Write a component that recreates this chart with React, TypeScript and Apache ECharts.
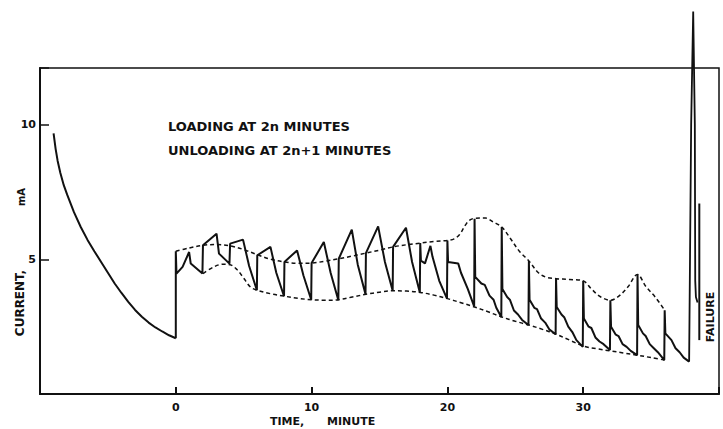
import React, { useEffect, useRef } from "react";
import * as echarts from "echarts";

// Time (minute) / current (mA) pairs
const warmupCurve: number[][] = [
  [-9.0, 9.67], [-8.85, 9.1], [-8.7, 8.65], [-8.5, 8.2], [-8.25, 7.75], [-8.0, 7.4],
  [-7.5, 6.75], [-7.0, 6.2], [-6.5, 5.72], [-6.0, 5.3], [-5.5, 4.9], [-5.0, 4.5],
  [-4.5, 4.1], [-4.0, 3.75], [-3.5, 3.42], [-3.0, 3.12], [-2.5, 2.87], [-2.0, 2.65],
  [-1.5, 2.47], [-1.0, 2.32], [-0.5, 2.18], [0, 2.07],
];

const cycleCurve: number[][] = [
  [0, 2.07], [0, 5.3], [0.05, 4.47], [0.5, 4.72], [0.98, 5.27], [1.1, 4.84], [1.96, 4.47],
  [2.0, 5.52], [3.0, 5.95], [3.18, 5.21], [3.95, 4.84],
  [4.0, 5.58], [4.95, 5.73], [5.4, 4.75], [5.97, 3.85],
  [6.0, 5.15], [6.97, 5.46], [7.4, 4.5], [7.97, 3.63],
  [8.0, 4.9], [8.93, 5.33], [9.4, 4.4], [9.97, 3.5],
  [10.0, 4.86], [10.9, 5.64], [11.4, 4.5], [11.97, 3.48],
  [12.0, 5.02], [12.96, 6.1], [13.4, 4.8], [13.97, 3.7],
  [14.0, 5.23], [14.9, 6.22], [15.4, 4.9], [15.97, 3.83],
  [16.0, 5.46], [16.95, 6.17], [17.4, 4.9], [17.97, 3.77],
  [18.0, 5.6], [18.05, 4.95], [18.35, 4.85], [18.75, 5.5], [18.9, 5.1], [19.4, 4.2], [19.97, 3.54],
  [20.0, 5.7], [20.05, 4.9], [20.8, 4.84], [21.0, 4.5], [21.5, 3.9], [21.97, 3.25],
  [22.0, 6.5], [22.05, 4.35], [22.5, 4.1], [22.75, 4.05], [23.1, 3.65], [23.4, 3.5], [23.6, 3.2], [23.97, 2.86],
  [24.0, 6.2], [24.05, 3.9], [24.4, 3.6], [24.6, 3.5], [24.9, 3.1], [25.2, 2.95], [25.5, 2.75], [25.97, 2.56],
  [26.0, 4.94], [26.05, 3.5], [26.4, 3.2], [26.6, 3.15], [26.9, 2.8], [27.2, 2.65], [27.5, 2.4], [27.97, 2.22],
  [28.0, 4.28], [28.05, 3.23], [28.4, 2.95], [28.6, 2.85], [28.9, 2.5], [29.2, 2.3], [29.5, 2.0], [29.97, 1.75],
  [30.0, 4.2], [30.05, 2.8], [30.4, 2.5], [30.6, 2.45], [30.9, 2.1], [31.2, 1.95], [31.5, 1.85], [31.97, 1.63],
  [32.0, 3.48], [32.05, 2.5], [32.4, 2.2], [32.6, 2.15], [32.9, 1.85], [33.2, 1.75], [33.5, 1.6], [33.97, 1.44],
  [34.0, 4.44], [34.05, 2.56], [34.4, 2.25], [34.6, 2.15], [34.9, 1.85], [35.2, 1.7], [35.5, 1.55], [35.97, 1.26],
  [36.0, 3.11], [36.05, 2.25], [36.5, 2.0], [36.8, 1.7], [37.1, 1.55], [37.4, 1.35], [37.8, 1.2],
];

const failureSpike: number[][] = [
  [37.8, 1.2], [37.95, 10.0], [38.1, 14.2], [38.22, 10.0], [38.25, 4.2], [38.3, 3.6], [38.42, 3.4],
];

const failureMarker: number[][] = [[38.55, 7.07], [38.55, 2.0]];

const upperEnvelope: number[][] = [
  [0, 5.3], [1, 5.42], [2, 5.52], [3, 5.55], [4, 5.5], [5, 5.36], [6, 5.17], [7, 5.0],
  [8, 4.9], [9, 4.85], [10, 4.86], [11, 4.93], [12, 5.02], [13, 5.12], [14, 5.23],
  [15, 5.34], [16, 5.46], [17, 5.54], [18, 5.6], [19, 5.66], [20, 5.7], [20.5, 5.76],
  [20.9, 5.92], [21.3, 6.25], [21.6, 6.44], [22, 6.52], [22.8, 6.53], [23.4, 6.38],
  [24, 6.2], [24.6, 5.8], [25.3, 5.3], [26, 4.94], [26.7, 4.5], [27.3, 4.33], [28, 4.28],
  [29, 4.25], [30, 4.2], [30.6, 3.9], [31.3, 3.6], [32, 3.48], [32.6, 3.62], [33.3, 3.98],
  [34, 4.44], [34.6, 4.0], [35.3, 3.6], [36, 3.11],
];

const lowerEnvelope: number[][] = [
  [2, 4.47], [2.8, 4.72], [3.5, 4.82], [4, 4.8], [4.5, 4.62], [5, 4.3], [5.5, 3.97],
  [6, 3.85], [7, 3.72], [8, 3.63], [9, 3.55], [10, 3.5], [11, 3.48], [12, 3.5], [13, 3.6],
  [14, 3.7], [15, 3.78], [16, 3.83], [17, 3.82], [18, 3.77], [19, 3.67], [20, 3.54],
  [21, 3.39], [22, 3.23], [23, 3.05], [24, 2.86], [25, 2.7], [26, 2.56], [27, 2.4],
  [28, 2.22], [29, 2.0], [30, 1.78], [31, 1.68], [32, 1.6], [33, 1.52], [34, 1.44],
  [35, 1.35], [36, 1.26],
];

const xTickLabels = [0, 10, 20, 30];
const yTickLabels = [5, 10];
const noteLines = ["LOADING AT 2n MINUTES", "UNLOADING AT 2n+1 MINUTES"];

const FONT = "DejaVu Sans";
const INK = "#111";

export default function App() {
  const ref = useRef<HTMLDivElement>(null);
  useEffect(() => {
    if (!ref.current) return;
    const chart = echarts.init(ref.current, undefined, { renderer: "svg" });
    const solid = { color: INK, width: 2 };
    const dashed = { color: INK, width: 1.5, type: [4, 3] as number[] };
    chart.setOption({
      animation: false,
      backgroundColor: "#fff",
      grid: {
        left: 40, right: 4, top: 68, bottom: 35,
        show: true, borderColor: INK, borderWidth: 1.5, backgroundColor: "transparent",
      },
      xAxis: {
        type: "value", min: -10, max: 40, interval: 10,
        splitLine: { show: false },
        axisLine: { onZero: false, lineStyle: { color: INK, width: 2 } },
        axisTick: { inside: true, length: 7, lineStyle: { color: INK, width: 2 } },
        axisLabel: {
          color: INK, fontFamily: FONT, fontWeight: "bold", fontSize: 11, margin: 8,
          formatter: (v: number) => (xTickLabels.includes(v) ? String(v) : ""),
        },
      },
      yAxis: {
        type: "value", min: 0, max: 12.1, interval: 5,
        splitLine: { show: false },
        axisLine: { onZero: false, lineStyle: { color: INK, width: 2 } },
        axisTick: { inside: true, length: 9, lineStyle: { color: INK, width: 1.5 } },
        axisLabel: {
          color: INK, fontFamily: FONT, fontWeight: "bold", fontSize: 11, margin: 4,
          formatter: (v: number) => (yTickLabels.includes(v) ? String(v) : ""),
        },
      },
      series: [
        { type: "line", data: warmupCurve, symbol: "none", lineStyle: solid, clip: false },
        { type: "line", data: cycleCurve, symbol: "none", lineStyle: solid, clip: false },
        { type: "line", data: failureSpike, symbol: "none", lineStyle: { color: INK, width: 1.8 }, clip: false },
        { type: "line", data: failureMarker, symbol: "none", lineStyle: { color: INK, width: 2 }, clip: false },
        { type: "line", data: upperEnvelope, symbol: "none", smooth: 0.35, lineStyle: dashed },
        { type: "line", data: lowerEnvelope, symbol: "none", smooth: 0.35, lineStyle: dashed },
      ],
      graphic: [
        { type: "text", left: 168, top: 120, style: { text: noteLines[0], font: `bold 13px "${FONT}"`, fill: INK } },
        { type: "text", left: 168, top: 144, style: { text: noteLines[1], font: `bold 13px "${FONT}"`, fill: INK } },
        { type: "text", x: 270, y: 421, style: { text: "TIME,", font: `bold 11px "${FONT}"`, fill: INK, verticalAlign: "middle" } },
        { type: "text", x: 327, y: 421, style: { text: "MINUTE", font: `bold 11px "${FONT}"`, fill: INK, verticalAlign: "middle" } },
        { type: "text", x: 20, y: 303, rotation: Math.PI / 2, style: { text: "CURRENT,", font: `bold 12px "${FONT}"`, fill: INK, align: "center", verticalAlign: "middle" } },
        { type: "text", x: 21, y: 197, rotation: Math.PI / 2, style: { text: "mA", font: `bold 10px "${FONT}"`, fill: INK, align: "center", verticalAlign: "middle" } },
        { type: "text", x: 710.5, y: 317, rotation: Math.PI / 2, style: { text: "FAILURE", font: `bold 11px "${FONT}"`, fill: INK, align: "center", verticalAlign: "middle" } },
      ],
    });
    return () => chart.dispose();
  }, []);
  return (
    <div
      ref={ref}
      style={{ position: "fixed", left: 0, top: 0, width: 723, height: 429, background: "#fff" }}
    />
  );
}
